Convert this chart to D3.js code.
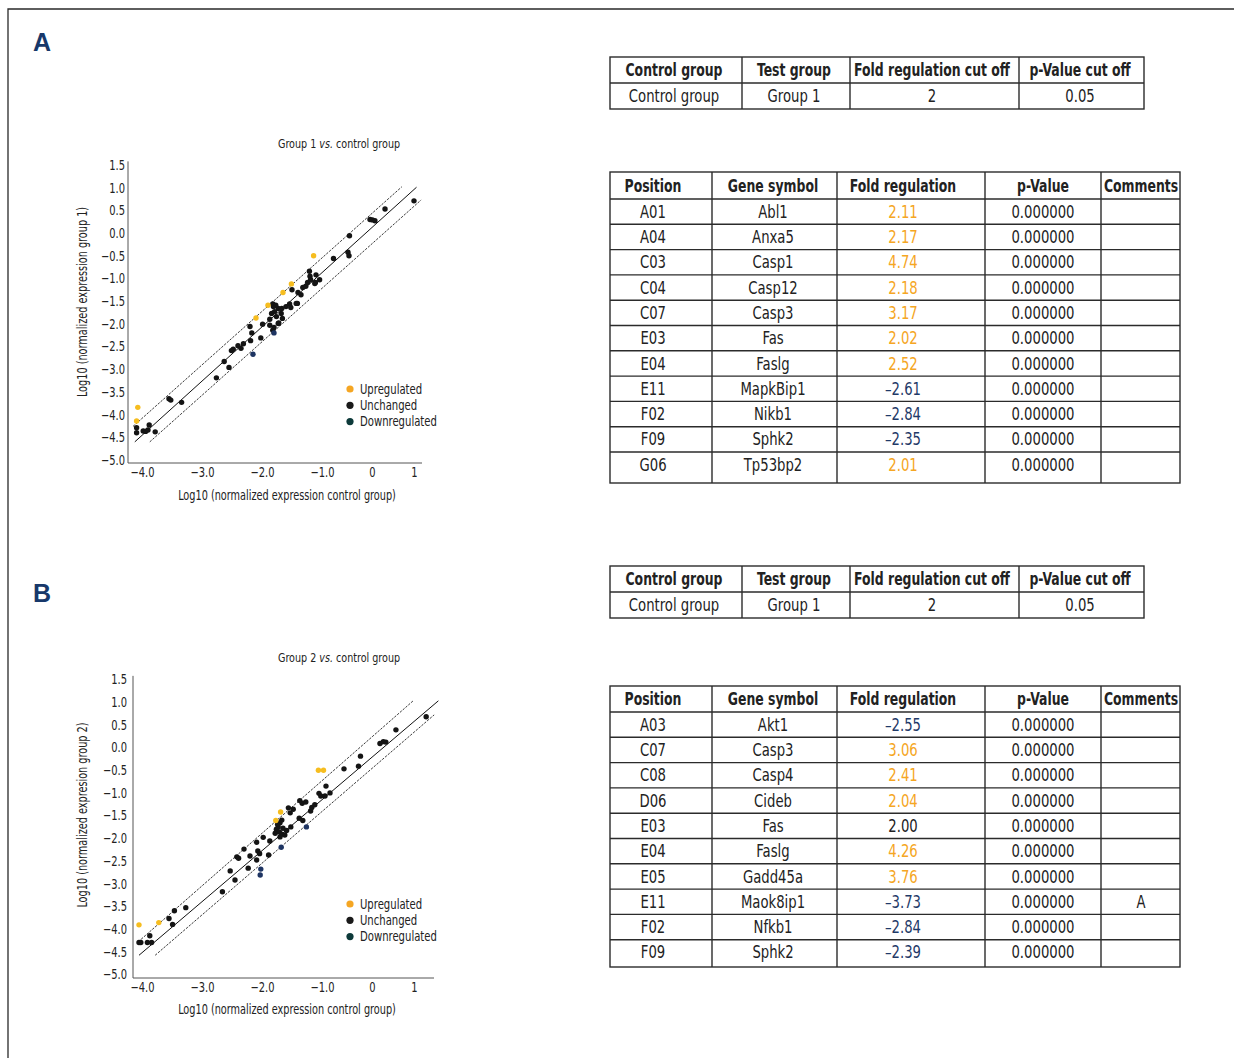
<!DOCTYPE html>
<html>
<head>
<meta charset="utf-8">
<script src="https://cdn.jsdelivr.net/npm/d3@7"></script>
<style>
  body { margin: 0; background: #fff; }
  svg text { font-family: "Liberation Sans Narrow", "DejaVu Sans Condensed", "Roboto Condensed", sans-serif; font-stretch: condensed; fill: #222; }
</style>
</head>
<body>
<svg id="fig" width="1234" height="1058"></svg>
<script>
// ---- scatter data, log10 values ----
const xTickValues = [-4, -3, -2, -1, 0, 1];
const xTickLabels = ["\u22124.0", "\u22123.0", "\u22122.0", "\u22121.0", "0", "1"];
const yTickValues = [1.5, 1.0, 0.5, 0, -0.5, -1.0, -1.5, -2.0, -2.5, -3.0, -3.5, -4.0, -4.5, -5.0];
const legendLabels = ["Upregulated", "Unchanged", "Downregulated"];

const unchangedA = [[-4.09,-4.29],[-4.09,-4.40],[-3.98,-4.36],[-3.94,-4.37],[-3.90,-4.34],[-3.88,-4.23],[-3.78,-4.38],
  [-3.55,-3.65],[-3.52,-3.68],[-3.34,-3.73],[-2.76,-3.19],[-2.63,-2.83],[-2.55,-2.96],[-2.51,-2.59],[-2.48,-2.56],
  [-2.40,-2.48],[-2.35,-2.54],[-2.31,-2.44],[-2.20,-2.06],[-2.19,-2.37],[-2.17,-2.20],[-2.02,-2.31],[-1.99,-2.01],
  [-1.87,-1.90],[-1.84,-1.77],[-1.81,-1.62],[-1.79,-1.73],[-1.76,-1.84],[-1.82,-1.56],[-1.73,-1.99],[-1.68,-1.77],
  [-1.66,-1.88],[-1.73,-1.66],[-1.87,-2.03],[-1.80,-2.08],[-1.82,-2.14],[-1.77,-1.59],[-1.54,-1.56],[-1.52,-1.64],
  [-1.50,-1.25],[-1.41,-1.55],[-1.40,-1.31],[-1.35,-1.36],[-1.32,-1.20],[-1.27,-1.17],[-1.24,-1.09],[-1.20,-0.95],
  [-1.19,-1.03],[-1.11,-1.09],[-1.10,-0.92],[-1.04,-1.03],[-1.21,-0.84],[-1.12,-1.11],[-1.60,-1.62],[-1.67,-1.66],
  [-0.77,-0.56],[-0.45,-0.06],[-0.48,-0.42],[-0.46,-0.50],[-0.04,0.30],[0.01,0.29],[0.07,0.27],[0.31,0.53],
  [1.00,0.71],[-1.43,-1.55],[-1.72,-1.98]];
const upA = [[-4.07,-3.84],[-4.09,-4.14],[-2.10,-1.87],[-1.90,-1.59],[-1.65,-1.31],[-1.51,-1.12],[-1.14,-0.50]];
const downA = [[-2.15,-2.67],[-1.80,-2.20]];
const midLineA = [[-4.12,-4.60],[1.06,1.01]];
const upperLineA = [[-4.15,-4.26],[0.71,1.02]];
const lowerLineA = [[-3.87,-4.60],[1.17,0.73]];

const unchangedB = [[-4.05,-4.30],[-4.02,-4.30],[-3.91,-4.30],[-3.87,-4.15],[-3.84,-4.30],[-3.55,-3.77],[-3.49,-3.90],
  [-3.46,-3.60],[-3.27,-3.53],[-2.66,-3.18],[-2.53,-2.72],[-2.45,-2.92],[-2.42,-2.41],[-2.39,-2.44],[-2.30,-2.24],
  [-2.23,-2.66],[-2.20,-2.39],[-2.09,-2.09],[-2.07,-2.28],[-2.04,-2.34],[-2.09,-2.48],[-1.98,-1.98],[-1.89,-2.37],
  [-1.87,-2.06],[-1.73,-1.75],[-1.70,-1.66],[-1.67,-1.60],[-1.76,-1.80],[-1.71,-1.86],[-1.65,-1.78],[-1.67,-1.91],
  [-1.62,-1.93],[-1.70,-1.97],[-1.59,-1.83],[-1.52,-1.75],[-1.53,-1.44],[-1.48,-1.36],[-1.38,-1.56],[-1.37,-1.17],
  [-1.33,-1.23],[-1.27,-1.20],[-1.19,-1.40],[-1.17,-1.32],[-1.12,-1.26],[-1.05,-1.01],[-1.02,-1.07],[-0.92,-0.85],
  [-0.94,-1.07],[-0.84,-1.00],[-0.56,-0.47],[-0.27,-0.41],[-0.23,-0.19],[0.19,0.09],[0.27,0.13],[0.33,0.12],
  [0.57,0.39],[1.29,0.68],[-1.56,-1.33],[-1.32,-1.61],[-1.74,-1.69],[-1.78,-1.89]];
const upB = [[-4.05,-3.91],[-3.72,-3.86],[-1.77,-1.61],[-1.69,-1.42],[-1.06,-0.50],[-0.97,-0.50]];
const downB = [[-1.68,-2.20],[-1.26,-1.75],[-2.02,-2.68],[-2.03,-2.81]];
const midLineB = [[-4.05,-4.58],[1.58,1.03]];
const upperLineB = [[-4.06,-4.28],[0.98,1.03]];
const lowerLineB = [[-3.78,-4.58],[1.48,0.72]];

// ---- tables ----
const summaryHeaders = ["Control group", "Test group", "Fold regulation cut off", "p-Value cut off"];
const summaryA = ["Control group", "Group 1", "2", "0.05"];
const summaryB = ["Control group", "Group 1", "2", "0.05"];
const geneHeaders = ["Position", "Gene symbol", "Fold regulation", "p-Value", "Comments"];

const positionsA = ["A01","A04","C03","C04","C07","E03","E04","E11","F02","F09","G06"];
const genesA = ["Abl1","Anxa5","Casp1","Casp12","Casp3","Fas","Faslg","MapkBip1","Nikb1","Sphk2","Tp53bp2"];
const foldA = [2.11, 2.17, 4.74, 2.18, 3.17, 2.02, 2.52, -2.61, -2.84, -2.35, 2.01];
const pValuesA = [0,0,0,0,0,0,0,0,0,0,0];
const commentsA = ["","","","","","","","","","",""];

const positionsB = ["A03","C07","C08","D06","E03","E04","E05","E11","F02","F09"];
const genesB = ["Akt1","Casp3","Casp4","Cideb","Fas","Faslg","Gadd45a","Maok8ip1","Nfkb1","Sphk2"];
const foldB = [-2.55, 3.06, 2.41, 2.04, 2.00, 4.26, 3.76, -3.73, -2.84, -2.39];
const pValuesB = [0,0,0,0,0,0,0,0,0,0];
const commentsB = ["","","","","","","","A","",""];

// ---- drawing ----
const svg = d3.select("#fig");
const UP = "#f6bd1f", UNCH = "#141414", DOWN = "#1e3462";
const LEG = ["#f5a623", "#1a1a1a", "#0d3a3a"];

// no narrow font installed, so squeeze the condensed one horizontally
function squeeze(sel, k) {
  sel.each(function() {
    const t = d3.select(this);
    const x = +t.attr("x") || 0, y = +t.attr("y") || 0;
    const prev = t.attr("transform") || "";
    t.attr("x", 0).attr("y", 0).attr("transform", `${prev} translate(${x},${y}) scale(${k},1)`);
  });
}

// page frame
svg.append("path").attr("d", "M8,1058V9H1234").attr("fill", "none").attr("stroke", "#2a2a2a").attr("stroke-width", 1.3);

svg.selectAll("text.panel").data([["A", 42], ["B", 593]]).enter().append("text")
  .attr("class", "panel").attr("x", 42).attr("y", d => d[1] + 9)
  .attr("text-anchor", "middle")
  .style("font-family", "'Liberation Sans', Arial, sans-serif").style("font-stretch", "normal")
  .style("font-weight", "bold").style("font-size", "25px").style("fill", "#17386a")
  .text(d => d[0]);

function drawPanel(cfg, up, unch, down, lines) {
  const x = d3.scaleLinear().domain(xTickValues).range(cfg.xTickPx);
  const y = d3.scaleLinear().domain([-5, 1.5]).range([cfg.yBottom, cfg.yTop]);
  const g = svg.append("g");
  const K = 0.8;

  // axes
  g.append("path")
    .attr("d", `M${cfg.axisX},${y(1.58)}V${cfg.axisY}H${cfg.axisRight}`)
    .attr("fill", "none").attr("stroke", "#555").attr("stroke-width", 1);

  const ya = g.append("g").attr("transform", `translate(${cfg.axisX},0)`)
    .call(d3.axisLeft(y).tickValues(yTickValues).tickSize(0).tickPadding(cfg.yPad)
      .tickFormat(d => d3.format(".1f")(d).replace("-", "\u2212")));
  ya.select(".domain").remove();
  ya.selectAll("text").style("font-size", "13.8px").style("font-family", null).call(squeeze, K);

  const xa = g.append("g").attr("transform", `translate(0,${cfg.axisY})`)
    .call(d3.axisBottom(x).tickValues(xTickValues).tickSize(0).tickPadding(4)
      .tickFormat((d, i) => xTickLabels[i]));
  xa.select(".domain").remove();
  xa.selectAll("text").style("font-size", "13.8px").style("font-family", null).call(squeeze, K);

  // titles
  const t = g.append("text").attr("x", cfg.titleX).attr("y", cfg.titleY)
    .attr("text-anchor", "middle").style("font-size", "13px");
  t.append("tspan").text(cfg.title[0]);
  t.append("tspan").style("font-style", "italic").text(" vs.");
  t.append("tspan").text(" " + cfg.title[1]);
  t.call(squeeze, 0.82);

  g.append("text").attr("x", cfg.xTitleX).attr("y", cfg.xTitleY)
    .attr("text-anchor", "middle").style("font-size", "13.5px")
    .text("Log10 (normalized expression control group)").call(squeeze, K);
  g.append("text")
    .attr("transform", `translate(${cfg.yTitleX},${cfg.yTitleY}) rotate(-90)`)
    .attr("text-anchor", "middle").style("font-size", "13.5px")
    .text(cfg.yTitle).call(squeeze, K);

  // fold cut-off lines
  const line = d3.line().x(d => x(d[0])).y(d => y(d[1]));
  g.append("path").attr("d", line(lines[0])).attr("stroke", "#111").attr("stroke-width", 1).attr("fill", "none");
  [lines[1], lines[2]].forEach(l => {
    g.append("path").attr("d", line(l)).attr("stroke", "#222").attr("stroke-width", 0.9)
      .attr("stroke-dasharray", "2.4,1.3").attr("fill", "none");
  });

  // points
  [[unch, UNCH], [up, UP], [down, DOWN]].forEach(([pts, col]) => {
    g.append("g").selectAll("circle").data(pts).enter().append("circle")
      .attr("cx", d => x(d[0])).attr("cy", d => y(d[1])).attr("r", 2.7).attr("fill", col);
  });

  // legend
  const lg = g.append("g").attr("transform", `translate(${cfg.legX},${cfg.legY})`);
  lg.selectAll("circle").data(legendLabels).enter().append("circle")
    .attr("cx", 0).attr("cy", (d, i) => i * 16.3).attr("r", 3.6).attr("fill", (d, i) => LEG[i]);
  lg.selectAll("text").data(legendLabels).enter().append("text")
    .attr("x", 10).attr("y", (d, i) => i * 16.3).attr("dy", "0.35em")
    .style("font-size", "13.5px").text(d => d).call(squeeze, 0.83);
}

drawPanel({
  xTickPx: [142, 202, 262, 322, 372, 414], yTop: 165, yBottom: 460,
  axisX: 128, axisY: 463, axisRight: 422, yPad: 3,
  title: ["Group 1", "control group"], titleX: 339, titleY: 148,
  xTitleX: 287, xTitleY: 500, yTitleX: 87, yTitleY: 302,
  yTitle: "Log10 (normalized expression group 1)", legX: 350, legY: 389
}, upA, unchangedA, downA, [midLineA, upperLineA, lowerLineA]);

drawPanel({
  xTickPx: [142, 202, 262, 322, 372, 414], yTop: 679.5, yBottom: 974.3,
  axisX: 133, axisY: 978, axisRight: 434, yPad: 6,
  title: ["Group 2", "control group"], titleX: 339, titleY: 662,
  xTitleX: 287, xTitleY: 1014, yTitleX: 87, yTitleY: 815,
  yTitle: "Log10 (normalized expresion group 2)", legX: 350, legY: 904
}, upB, unchangedB, downB, [midLineB, upperLineB, lowerLineB]);

// ---- tables ----
const foldColor = v => v > 2 ? "#f5a623" : (v < -2 ? "#1f3a68" : "#222");
const fmtFold = v => (v < 0 ? "\u2013" : "") + Math.abs(v).toFixed(2);

function drawTable(cfg, headers, rows, colors) {
  const g = svg.append("g");
  const nRows = rows.length;
  const rowY = i => cfg.top + cfg.headH + i * cfg.rowH;
  const bottom = cfg.bottom;
  const left = cfg.cols[0], right = cfg.cols[cfg.cols.length - 1];
  const stroke = sel => sel.attr("stroke", "#2b2b2b").attr("stroke-width", 1.4).attr("fill", "none");

  stroke(g.append("rect").attr("x", left).attr("y", cfg.top).attr("width", right - left).attr("height", bottom - cfg.top));
  stroke(g.selectAll("line.v").data(cfg.cols.slice(1, -1)).enter().append("line")
    .attr("x1", d => d).attr("x2", d => d).attr("y1", cfg.top).attr("y2", bottom));
  stroke(g.selectAll("line.h").data(d3.range(nRows)).enter().append("line")
    .attr("x1", left).attr("x2", right).attr("y1", i => rowY(i)).attr("y2", i => rowY(i)));

  g.selectAll("text.h").data(headers).enter().append("text")
    .attr("x", (d, i) => cfg.textX[i]).attr("y", cfg.top + cfg.headH / 2).attr("dy", "0.35em")
    .attr("text-anchor", "middle").style("font-weight", "bold").style("font-size", "17.5px")
    .text(d => d).call(squeeze, 0.79);

  rows.forEach((r, ri) => {
    g.selectAll(null).data(r).enter().append("text")
      .attr("x", (d, i) => cfg.textX[i]).attr("y", rowY(ri) + cfg.rowH / 2).attr("dy", "0.35em")
      .attr("text-anchor", "middle").style("font-size", "17.5px")
      .style("fill", (d, i) => colors ? colors[ri][i] : "#222")
      .text(d => d).call(squeeze, 0.84);
  });
}

const sumCols = [610, 742, 850, 1019, 1144];
const sumTextX = [674, 794, 932, 1080];
drawTable({ cols: sumCols, textX: sumTextX, top: 57, headH: 26, rowH: 26, bottom: 109 }, summaryHeaders, [summaryA]);
drawTable({ cols: sumCols, textX: sumTextX, top: 566, headH: 26, rowH: 26, bottom: 618 }, summaryHeaders, [summaryB]);

const geneCols = [610, 712, 837, 985, 1101, 1180];
const geneTextX = [653, 773, 903, 1043, 1141];
function geneRows(pos, genes, fold, pv, com) {
  return pos.map((p, i) => [p, genes[i], fmtFold(fold[i]), pv[i].toFixed(6), com[i]]);
}
function geneColors(fold) {
  return fold.map(f => ["#222", "#222", foldColor(f), "#222", "#222"]);
}
drawTable({ cols: geneCols, textX: geneTextX, top: 172, headH: 27, rowH: 25.3, bottom: 483 },
  geneHeaders, geneRows(positionsA, genesA, foldA, pValuesA, commentsA), geneColors(foldA));
drawTable({ cols: geneCols, textX: geneTextX, top: 686, headH: 26, rowH: 25.3, bottom: 967 },
  geneHeaders, geneRows(positionsB, genesB, foldB, pValuesB, commentsB), geneColors(foldB));
</script>
</body>
</html>
